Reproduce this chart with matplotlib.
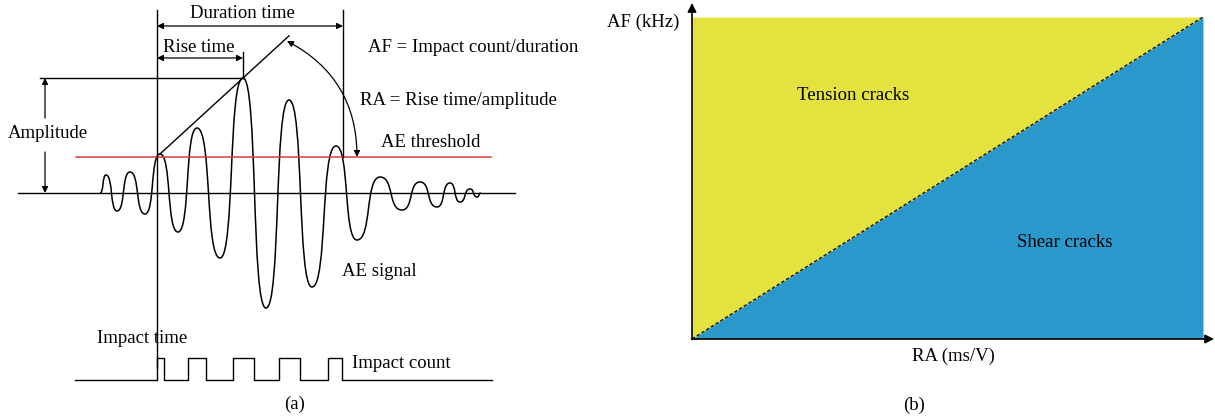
import numpy as np
import matplotlib.pyplot as plt
from matplotlib.path import Path
from matplotlib.patches import PathPatch, FancyArrowPatch

plt.rcParams['font.family'] = ['Liberation Serif', 'DejaVu Serif']
plt.rcParams['font.size'] = 13.5

# (a) AE waveform turning points: time (px) and amplitude above baseline (px)
sig_t = [100, 106, 117, 130, 145, 160, 178, 197, 220, 243, 266, 289, 312,
         336, 357, 380, 402, 420, 437, 450, 460, 470, 477, 481]
sig_a = [0, 18, -18, 21, -21, 39, -39, 65, -65, 115, -115, 93, -94,
         47, -47, 16, -17, 11, -14, 10, -9, 4, -4, 0]
threshold = 36
impact_t = 157      # impact time
end_t = 343         # end of duration
peak_t = 243        # time of max amplitude
peak_a = 115
# impact count pulses (start, end)
pulse_on = [157, 188, 233, 279, 328]
pulse_off = [164, 206, 254, 300, 342]

# (b) RA-AF classification boundary
ra = [0, 1]
af_bound = [0, 1]

BASE = 193  # baseline pixel row in panel (a)
YEL = '#e4e23f'
BLUE = '#2b98cc'
RED = '#d93a3f'

fig = plt.figure(figsize=(12.15, 4.19), dpi=100)

# ---- panel (b) fill axes
axb = fig.add_axes([692/1215, (419-339)/419, (1203-692)/1215, (339-17)/419], zorder=1)
axb.fill_between(ra, af_bound, 1, color=YEL, lw=0)
axb.fill_between(ra, 0, af_bound, color=BLUE, lw=0)
axb.plot(ra, af_bound, color='#111111', lw=1.0, dashes=(2.5, 1.5))
axb.set_xlim(0, 1)
axb.set_ylim(0, 1)
axb.axis('off')

# ---- overlay in pixel coordinates
ax = fig.add_axes([0, 0, 1, 1], zorder=3)
ax.set_xlim(0, 1215)
ax.set_ylim(419, 0)
ax.axis('off')
ax.patch.set_alpha(0)

def arrow(p0, p1, style='<|-|>', rad=0.0, lw=0.9, ms=9):
    a = FancyArrowPatch(p0, p1, arrowstyle=style, mutation_scale=ms,
                        connectionstyle='arc3,rad=%g' % rad, color='k', lw=lw,
                        shrinkA=0, shrinkB=0)
    ax.add_patch(a)

# waveform as smooth bezier segments through the turning points
verts = [(sig_t[0], BASE - sig_a[0])]
codes = [Path.MOVETO]
for i in range(len(sig_t) - 1):
    x0, x1 = sig_t[i], sig_t[i+1]
    y0, y1 = BASE - sig_a[i], BASE - sig_a[i+1]
    d = x1 - x0
    verts += [(x0 + 0.65*d, y0), (x1 - 0.65*d, y1), (x1, y1)]
    codes += [Path.CURVE4]*3
ax.add_patch(PathPatch(Path(verts, codes), fill=False, lw=1.1, color='k'))

# baseline and threshold
ax.plot([18, 515], [BASE, BASE], color='k', lw=1.0)
ax.plot([76, 491], [BASE - threshold]*2, color=RED, lw=1.1)

# impact time / duration verticals
ax.plot([impact_t, impact_t], [10, 368], color='k', lw=1.0)
ax.plot([end_t, end_t], [10, BASE - threshold], color='k', lw=1.0)
ax.plot([peak_t, peak_t], [52, BASE - peak_a], color='k', lw=1.0)
arrow((impact_t, 26), (end_t, 26))
arrow((impact_t, 58), (peak_t, 58))

# amplitude
ax.plot([40, peak_t], [BASE - peak_a]*2, color='k', lw=1.0)
arrow((45, 118), (45, BASE - peak_a), style='-|>')
arrow((45, 152), (45, BASE), style='-|>')

# rise line through the peak
x_r0, y_r0 = 160, BASE - 39
slope = (y_r0 - (BASE - peak_a)) / (peak_t - x_r0)
x_r1 = 289
ax.plot([x_r0, x_r1], [y_r0, y_r0 - slope*(x_r1 - x_r0)], color='k', lw=1.0)
arrow((287, 41), (357, BASE - threshold), rad=-0.3)

# impact count pulses
px, py = [75], [380]
for a, b in zip(pulse_on, pulse_off):
    px += [a, a, b, b]
    py += [380, 358, 358, 380]
px.append(492)
py.append(380)
ax.plot(px, py, color='k', lw=1.0)

# texts panel (a)
ax.text(242, 13, 'Duration time', ha='center', va='center')
ax.text(199, 48, 'Rise time', ha='center', va='center')
ax.text(368, 48, 'AF = Impact count/duration', ha='left', va='center')
ax.text(360, 100, 'RA = Rise time/amplitude', ha='left', va='center')
ax.text(8, 133, 'Amplitude', ha='left', va='center')
ax.text(381, 142, 'AE threshold', ha='left', va='center')
ax.text(342, 271, 'AE signal', ha='left', va='center')
ax.text(97, 338, 'Impact time', ha='left', va='center')
ax.text(352, 363, 'Impact count', ha='left', va='center')
ax.text(295, 404, '(a)', ha='center', va='center')

# panel (b) axes arrows and texts
arrow((692, 339.5), (692, 3), style='-|>', lw=1.2, ms=13)
arrow((691.5, 339), (1214, 339), style='-|>', lw=1.2, ms=13)
ax.text(607, 22, 'AF (kHz)', ha='left', va='center')
ax.text(853, 95, 'Tension cracks', ha='center', va='center')
ax.text(1065, 242, 'Shear cracks', ha='center', va='center')
ax.text(953, 356, 'RA (ms/V)', ha='center', va='center')
ax.text(914, 405, '(b)', ha='center', va='center')

plt.savefig('out.png', dpi=100)
